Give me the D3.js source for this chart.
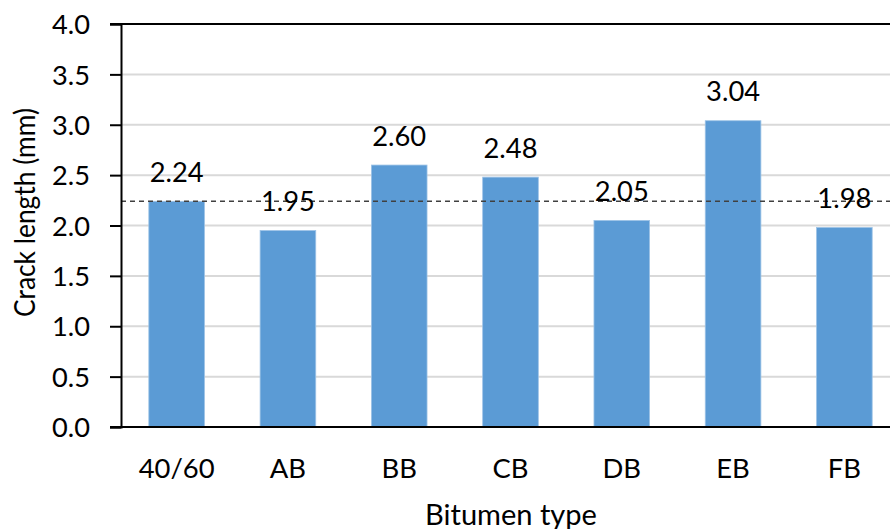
<!DOCTYPE html>
<html>
<head>
<meta charset="utf-8">
<script src="https://cdn.jsdelivr.net/npm/d3@7"></script>
<style>
  html, body { margin: 0; padding: 0; background: #fff; }
  svg { display: block; font-family: Lato, "Open Sans", sans-serif; }
</style>
</head>
<body>
<svg id="chart" width="890" height="529"></svg>
<script>
// Bitumen types and their measured crack lengths (mm)
const categories = ["40/60", "AB", "BB", "CB", "DB", "EB", "FB"];
const crackLength = [2.24, 1.95, 2.60, 2.48, 2.05, 3.04, 1.98];
const yTicks = [0, 0.5, 1.0, 1.5, 2.0, 2.5, 3.0, 3.5, 4.0];
const referenceValue = 2.24; // 40/60 reference level, dashed line
const xTitle = "Bitumen type";
const yTitle = "Crack length (mm)";

const svg = d3.select("#chart");
const plot = { left: 121, right: 900, top: 24, bottom: 427 };

const x = d3.scaleBand()
  .domain(categories)
  .range([plot.left, plot.right])
  .paddingInner(0.5)
  .paddingOuter(0.25);

const y = d3.scaleLinear()
  .domain([0, 4])
  .range([plot.bottom, plot.top]);

// width of a string at a given font size, used to set glyph proportions
function measure(str, size) {
  const t = svg.append("text").attr("font-size", size).text(str);
  const w = t.node().getComputedTextLength();
  t.remove();
  return w;
}
const FS = 27;
const sxTick = 38 / measure("4.0", FS);
const sxLabel = 54 / measure("3.04", FS);
const sxCat = 76 / measure("40/60", FS);
const sxXTitle = 172 / measure(xTitle, 28);
const sxYTitle = 209 / measure(yTitle, 28);

// gridlines
svg.append("g")
  .selectAll("line")
  .data(yTicks.filter(d => d > 0 && d < 4))
  .join("line")
  .attr("x1", plot.left).attr("x2", plot.right)
  .attr("y1", d => y(d)).attr("y2", d => y(d))
  .attr("stroke", "#d9d9d9")
  .attr("stroke-width", 2);

// bars
svg.append("g")
  .selectAll("rect")
  .data(categories.map((c, i) => ({ c, v: crackLength[i] })))
  .join("rect")
  .attr("x", d => x(d.c))
  .attr("width", x.bandwidth())
  .attr("y", d => y(d.v))
  .attr("height", d => y(0) - y(d.v))
  .attr("fill", "#5b9bd5")
  .attr("stroke", "#9dc3e6")
  .attr("stroke-width", 0.8);

// reference dashed line
svg.append("line")
  .attr("x1", plot.left).attr("x2", plot.right)
  .attr("y1", y(referenceValue)).attr("y2", y(referenceValue))
  .attr("stroke", "#404040")
  .attr("stroke-width", 1.5)
  .attr("stroke-dasharray", "5,4");

// top border line at 4.0
svg.append("line")
  .attr("x1", plot.left - 11).attr("x2", plot.right)
  .attr("y1", y(4)).attr("y2", y(4))
  .attr("stroke", "#000").attr("stroke-width", 2);

// y axis
const yAxis = svg.append("g")
  .attr("transform", `translate(${plot.left},0)`)
  .call(d3.axisLeft(y).tickValues(yTicks).tickFormat(d3.format(".1f")).tickSize(11).tickPadding(0));
yAxis.select(".domain").attr("stroke", "#000").attr("stroke-width", 2);
yAxis.selectAll(".tick line").attr("stroke", "#000").attr("stroke-width", 2);
yAxis.selectAll(".tick text")
  .attr("font-family", "Lato, 'Open Sans', sans-serif")
  .attr("font-size", FS)
  .attr("fill", "#000")
  .attr("text-anchor", "end")
  .attr("dy", "0.36em")
  .attr("x", -31 / sxTick)
  .attr("transform", `scale(${sxTick},1)`);

// x axis baseline
svg.append("line")
  .attr("x1", plot.left - 11).attr("x2", plot.right)
  .attr("y1", y(0)).attr("y2", y(0))
  .attr("stroke", "#000").attr("stroke-width", 2);

// category labels
svg.append("g")
  .selectAll("text")
  .data(categories)
  .join("text")
  .attr("transform", d => `translate(${x(d) + x.bandwidth() / 2},477.5) scale(${sxCat},1)`)
  .attr("text-anchor", "middle")
  .attr("font-size", FS)
  .attr("fill", "#000")
  .text(d => d);

// value labels
svg.append("g")
  .selectAll("text")
  .data(categories.map((c, i) => ({ c, v: crackLength[i] })))
  .join("text")
  .attr("transform", d => `translate(${x(d.c) + x.bandwidth() / 2},${y(d.v) - 19.5}) scale(${sxLabel},1)`)
  .attr("text-anchor", "middle")
  .attr("font-size", FS)
  .attr("fill", "#000")
  .text(d => d3.format(".2f")(d.v));

// axis titles
svg.append("text")
  .attr("transform", `translate(511,525) scale(${sxXTitle},1)`)
  .attr("text-anchor", "middle")
  .attr("font-size", 28)
  .attr("fill", "#000")
  .text(xTitle);

svg.append("text")
  .attr("transform", `translate(35,212.5) rotate(-90) scale(${sxYTitle},1)`)
  .attr("text-anchor", "middle")
  .attr("font-size", 28)
  .attr("fill", "#000")
  .text(yTitle);
</script>
</body>
</html>
